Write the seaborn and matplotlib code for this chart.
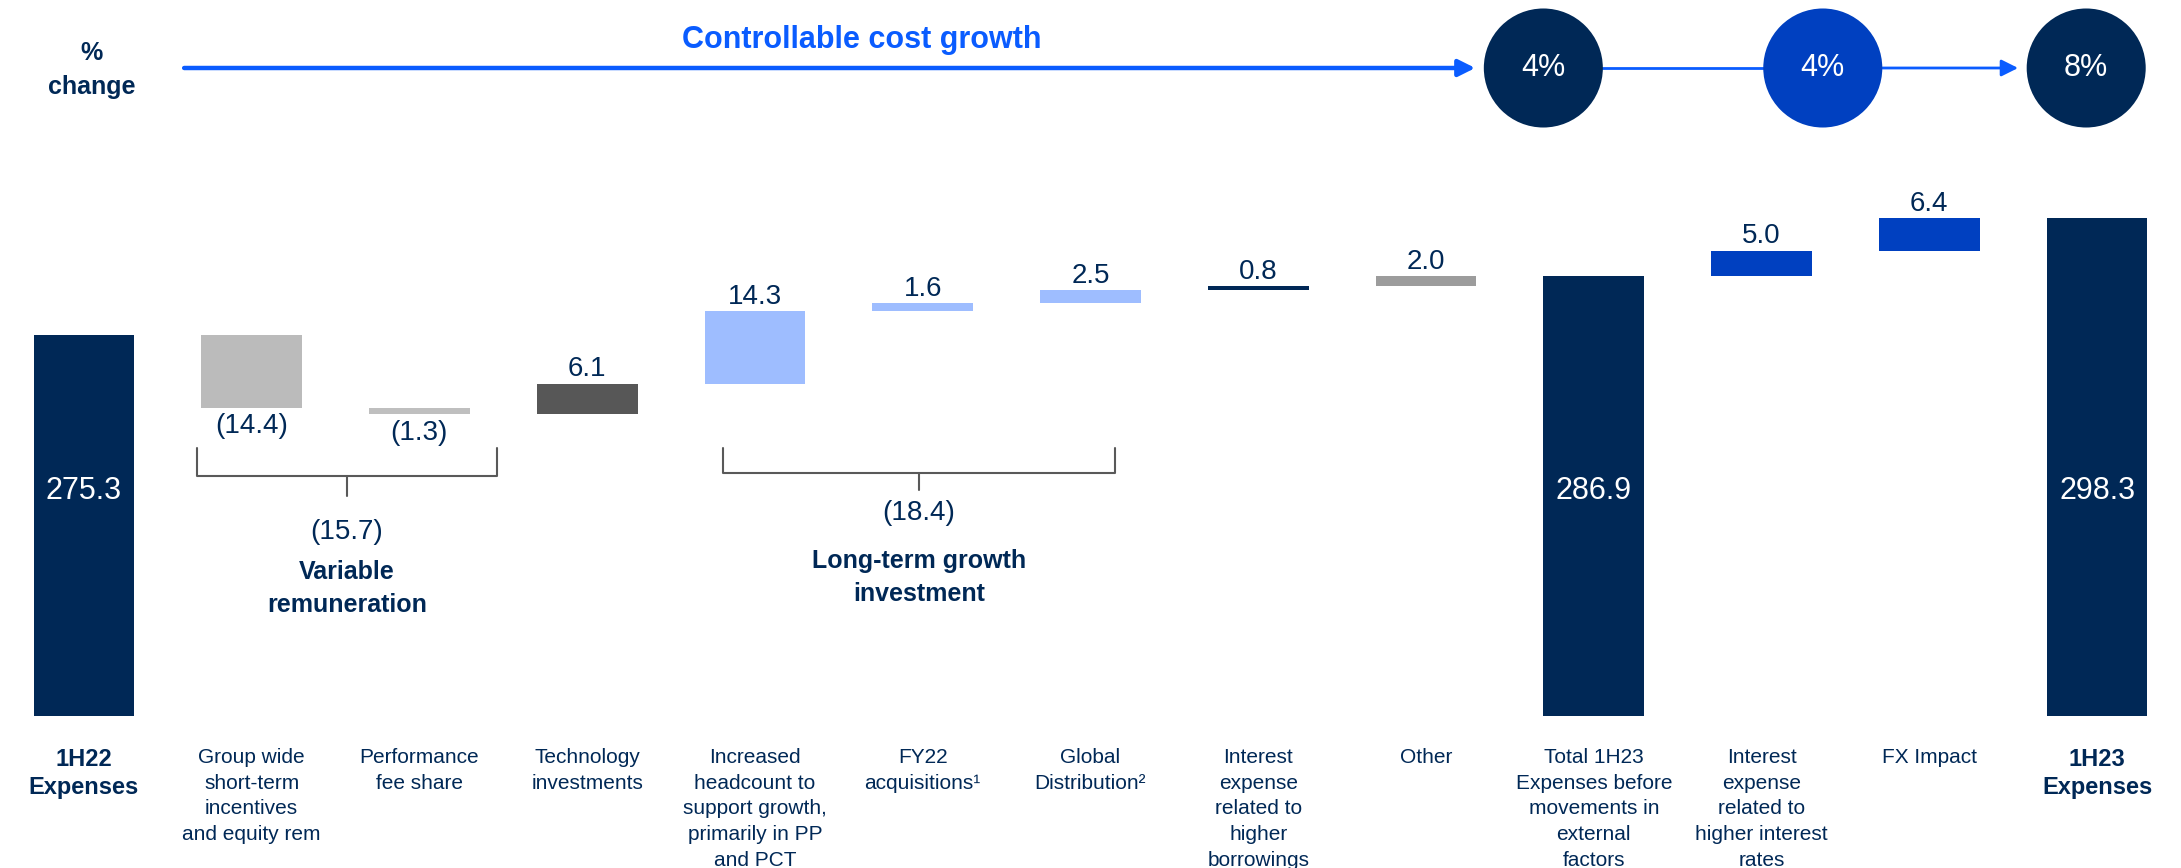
"""
plot.py - 1H22 to 1H23 expenses bridge (waterfall).

    python plot.py
"""

import numpy as np
import pandas as pd
import matplotlib
matplotlib.use('Agg')
import matplotlib.pyplot as plt
import seaborn as sns

# ---- data -------------------------------------------------------------
steps = [
    '1H22\nExpenses',
    'Group wide\nshort-term\nincentives\nand equity rem',
    'Performance\nfee share',
    'Technology\ninvestments',
    'Increased\nheadcount to\nsupport growth,\nprimarily in PP\nand PCT',
    'FY22\nacquisitions\u00b9',
    'Global\nDistribution\u00b2',
    'Interest\nexpense\nrelated to\nhigher\nborrowings',
    'Other',
    'Total 1H23\nExpenses before\nmovements in\nexternal\nfactors',
    'Interest\nexpense\nrelated to\nhigher interest\nrates',
    'FX Impact',
    '1H23\nExpenses',
]
values   = [275.3, -14.4, -1.3, 6.1, 14.3, 1.6, 2.5, 0.8, 2.0, 286.9, 5.0, 6.4, 298.3]
is_total = [True, False, False, False, False, False, False, False, False, True, False, False, True]

pct_labels = ['4%', '4%', '8%']
group_totals = ['(15.7)', '(18.4)']
group_names  = ['Variable\nremuneration', 'Long-term growth\ninvestment']

BASE = 200.0   # axis floor the total bars stand on

# ---- colours ----------------------------------------------------------
NAVY   = '#002856'
BLUE   = '#0040C0'
BRIGHT = '#0A5CFF'
LIGHT  = '#9EBDFF'
bar_colors = [NAVY, '#BBBBBB', '#BFBFBF', '#575757', LIGHT, LIGHT, LIGHT,
              NAVY, '#9C9C9C', NAVY, BLUE, BLUE, NAVY]
pct_colors = [NAVY, BLUE, NAVY]

# ---- waterfall geometry from the values -------------------------------
bottoms, heights = [], []
running = 0.0
for v, tot in zip(values, is_total):
    if tot:
        bottoms.append(BASE)
        heights.append(v - BASE)
        running = v
    else:
        bottoms.append(min(running, running + v))
        heights.append(abs(v))
        running += v

df = pd.DataFrame({'step': steps, 'height': heights})

sns.set_theme(style='white')
plt.rcParams['font.family'] = ['Liberation Sans', 'DejaVu Sans']

fig = plt.figure(figsize=(21.81, 8.68), dpi=100)
ax = fig.add_axes([0, 0, 1, 1])

sns.barplot(data=df, x='step', y='height', bottom=bottoms, width=0.6,
            color=NAVY, errorbar=None, linewidth=0, ax=ax)
for patch, c in zip(ax.patches, bar_colors):
    patch.set_facecolor(c)

ax.set_xlim(-0.5, 12.5)
ax.set_ylim(170.1, 341.4)
ax.set_axis_off()

xt = ax.get_xaxis_transform()   # x in data, y in axes fraction

def fy(px):
    """pixel row (from top) -> axes fraction"""
    return 1 - px / 868


def fx(px):
    """pixel column -> x data"""
    return (px - 84.9) / 167.5


# ---- value labels -----------------------------------------------------
for i, (v, tot) in enumerate(zip(values, is_total)):
    if tot:
        ax.text(i, fy(491), f'{v:.1f}', transform=xt, ha='center', va='center',
                color='white', fontsize=22)
    elif v > 0:
        ax.annotate(f'{v:.1f}', xy=(i, bottoms[i] + heights[i]), xytext=(0, 1),
                    textcoords='offset points', ha='center', va='bottom',
                    color=NAVY, fontsize=20)
    else:
        ax.annotate(f'({abs(v):.1f})', xy=(i, bottoms[i]), xytext=(0, -4),
                    textcoords='offset points', ha='center', va='top',
                    color=NAVY, fontsize=20)

# ---- category labels --------------------------------------------------
for i, s in enumerate(steps):
    bold = is_total[i] and i != 9
    ax.text(i, fy(748), s, transform=xt, ha='center', va='top', color=NAVY,
            fontsize=17 if bold else 15, fontweight='bold' if bold else 'normal',
            linespacing=1.3 if bold else 1.45)

# ---- braces -----------------------------------------------------------
# x0, x1, end top, bar row, tip, total label centre, name top (pixels)
braces = [(198, 497, 448, 476, 496, 532, 560),
          (723, 1114, 448, 473, 490, 513, 549)]
for (x0, x1, yt, yh, ytip, ytot, yname), tot, name in zip(braces, group_totals, group_names):
    xa, xb = fx(x0), fx(x1)
    xc = (xa + xb) / 2
    ax.plot([xa, xa, xb, xb], [fy(yt), fy(yh), fy(yh), fy(yt)], transform=xt,
            color='#595959', lw=1.5, solid_joinstyle='round')
    ax.plot([xc, xc], [fy(yh), fy(ytip)], transform=xt, color='#595959', lw=1.5)
    ax.text(xc, fy(ytot), tot, transform=xt, ha='center', va='center',
            color=NAVY, fontsize=20)
    ax.text(xc, fy(yname), name, transform=xt, ha='center', va='top',
            color=NAVY, fontsize=18, fontweight='bold', linespacing=1.45)

# ---- % change row -----------------------------------------------------
ax.text(fx(93), fy(70), '%\nchange', transform=xt, ha='center', va='center',
        color=NAVY, fontsize=18, fontweight='bold', linespacing=1.5)
ax.text(fx(862), fy(40), 'Controllable cost growth', transform=xt,
        ha='center', va='center', color=BRIGHT, fontsize=22, fontweight='bold')

y_row = fy(68)
circle_x = [fx(1542), fx(1821), fx(2084)]
ax.annotate('', xy=(fx(1474), y_row), xytext=(fx(185), y_row),
            xycoords=xt, textcoords=xt,
            arrowprops=dict(arrowstyle='-|>', color=BRIGHT, lw=3.2,
                            mutation_scale=25, shrinkA=0, shrinkB=0))
ax.plot([circle_x[0], circle_x[1]], [y_row, y_row], transform=xt,
        color=BRIGHT, lw=2, zorder=2)
ax.annotate('', xy=(fx(2016), y_row), xytext=(circle_x[1], y_row),
            xycoords=xt, textcoords=xt,
            arrowprops=dict(arrowstyle='-|>', color=BRIGHT, lw=2,
                            mutation_scale=25, shrinkA=0, shrinkB=0))
ax.scatter(circle_x, [y_row] * 3, s=7344, c=pct_colors, transform=xt,
           linewidths=0, zorder=3, clip_on=False)
for x, lab in zip(circle_x, pct_labels):
    ax.text(x, y_row, lab, transform=xt, ha='center', va='center',
            color='white', fontsize=22, zorder=4)

fig.savefig('out.png', dpi=100)
plt.close(fig)
